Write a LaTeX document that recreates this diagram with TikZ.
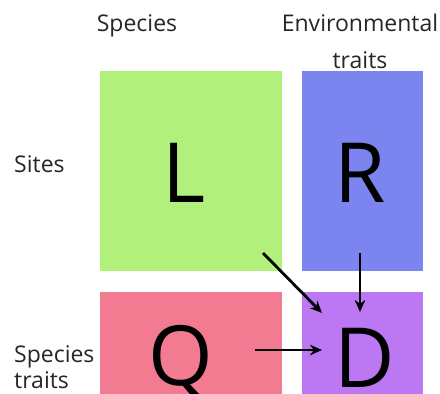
\documentclass[tikz,border=0pt]{standalone}
\usepackage{fontspec}
\setmainfont{Open Sans}
\usetikzlibrary{arrows.meta}
\definecolor{cgreen}{RGB}{178,240,124}
\definecolor{cblue}{RGB}{124,132,240}
\definecolor{cpink}{RGB}{242,122,145}
\definecolor{cpurple}{RGB}{188,120,242}
\begin{document}
\begin{tikzpicture}[x=1pt,y=-1pt,
  box/.style={draw=none,inner sep=0pt,outer sep=0pt,anchor=north west},
  big/.style={font=\fontsize{83}{90}\selectfont,inner sep=0pt,anchor=base},
  lab/.style={font=\fontsize{23}{28}\selectfont,text=black!85,inner sep=0pt},
  arr/.style={line width=2.8pt,-{Stealth[length=12pt,width=10.5pt]}}]
\useasboundingbox (0,0) rectangle (440,394);
\clip (0,0) rectangle (440,394);
\fill[white] (0,0) rectangle (440,394);
% boxes
\node[box,fill=cgreen,minimum width=182pt,minimum height=200pt] (Lbox) at (100,71) {};
\node[box,fill=cblue,minimum width=121pt,minimum height=200pt] (Rbox) at (302,71) {};
\node[box,fill=cpink,minimum width=182pt,minimum height=110pt] (Qbox) at (100,292) {};
\node[box,fill=cpurple,minimum width=121pt,minimum height=110pt] (Dbox) at (302,292) {};
% letters
\node[big] (L) at (184,202) {L};
\node[big] (R) at (360,202) {R};
\node[big] (Q) at (181,385) {Q};
\node[big] (D) at (365,387) {D};
% labels
\node[lab,anchor=base] (sp) at (137,31) {Species};
\node[lab,anchor=base] (env) at (360,31) {Environmental};
\node[lab,anchor=base] (tr) at (360,68) {traits};
\node[lab,anchor=base west] (sites) at (14,172) {Sites};
\node[lab,anchor=base west] (sp2) at (14,362) {Species};
\node[lab,anchor=base west] (tr2) at (14,388) {traits};
% arrows
\coordinate (a1s) at (263,253);
\coordinate (a1e) at (322,313);
\coordinate (a2s) at (360,253);
\coordinate (a2e) at (360,312);
\coordinate (a3s) at (255,350);
\coordinate (a3e) at (322,350);
\draw[arr] (a1s) -- (a1e);
\draw[arr] (a2s) -- (a2e);
\draw[arr] (a3s) -- (a3e);
\end{tikzpicture}
\end{document}
